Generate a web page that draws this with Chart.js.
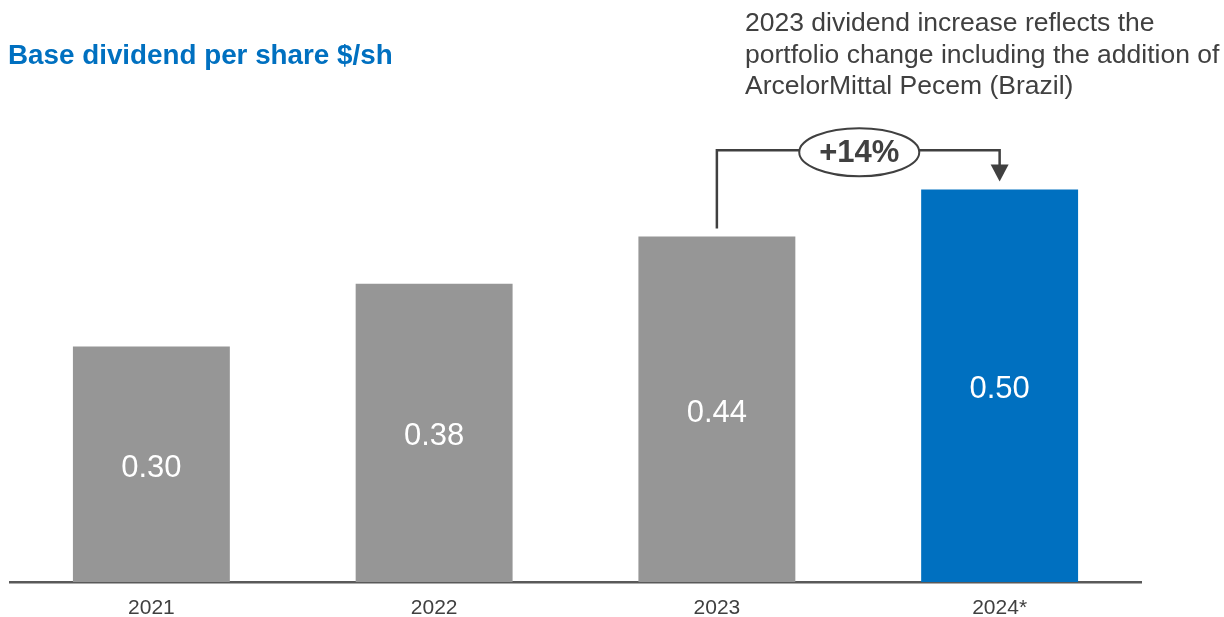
<!DOCTYPE html>
<html>
<head>
<meta charset="utf-8">
<script src="https://cdn.jsdelivr.net/npm/chart.js@4/dist/chart.umd.min.js"></script>
<style>
  html, body { margin: 0; padding: 0; background: #fff; }
  body { width: 1224px; height: 617px; position: relative; overflow: hidden;
         font-family: "Liberation Sans", Arial, sans-serif; }
  #wrap { position: absolute; left: 0; top: 0; width: 1224px; height: 617px; }
  .title { position: absolute; left: 8px; top: 40px; font-size: 27.8px; font-weight: bold;
           color: #0070c0; line-height: 30px; white-space: nowrap; }
  .note { position: absolute; left: 745px; top: 7px; font-size: 26.5px; color: #404040;
          line-height: 31.5px; white-space: nowrap; }
</style>
</head>
<body>
<div id="wrap"><canvas id="dividendChart" width="1224" height="617"></canvas></div>
<div class="title">Base dividend per share $/sh</div>
<div class="note">2023 dividend increase reflects the<br>portfolio change including the addition of<br>ArcelorMittal Pecem (Brazil)</div>
<script>
// Données
const years = ['2021', '2022', '2023', '2024*'];
const dividends = [0.30, 0.38, 0.44, 0.50];
const barColors = ['#969696', '#969696', '#969696', '#0070c0'];

const textDark = '#404040';

// Valeurs écrites au centre des barres
const barLabels = {
    id: 'barLabels',
    afterDatasetsDraw(chart) {
        const { ctx } = chart;
        const meta = chart.getDatasetMeta(0);
        ctx.save();
        ctx.fillStyle = '#ffffff';
        ctx.font = '31px "Liberation Sans", Arial, sans-serif';
        ctx.textAlign = 'center';
        ctx.textBaseline = 'middle';
        meta.data.forEach((bar, i) => {
            const p = bar.getCenterPoint();
            ctx.fillText(dividends[i].toFixed(2), p.x, p.y + 4);
        });
        ctx.restore();
    }
};

// Flèche 2023 -> 2024 avec la variation en pourcentage
const growthArrow = {
    id: 'growthArrow',
    afterDraw(chart) {
        const { ctx, scales: { x, y } } = chart;
        const x0 = x.getPixelForValue(2);
        const x1 = x.getPixelForValue(3);
        const yStart = y.getPixelForValue(dividends[2]) - 8;
        const yEnd = y.getPixelForValue(dividends[3]) - 8;
        const yTop = y.getPixelForValue(0.55);
        const cx = (x0 + x1) / 2;
        const rx = 59, ry = 24;
        const pct = Math.round((dividends[3] / dividends[2] - 1) * 100);

        ctx.save();
        ctx.strokeStyle = textDark;
        ctx.lineWidth = 2.5;
        ctx.beginPath();
        ctx.moveTo(x0, yStart);
        ctx.lineTo(x0, yTop);
        ctx.lineTo(cx - rx, yTop);
        ctx.moveTo(cx + rx, yTop);
        ctx.lineTo(x1, yTop);
        ctx.lineTo(x1, yEnd - 14);
        ctx.stroke();

        // pointe
        ctx.fillStyle = textDark;
        ctx.beginPath();
        ctx.moveTo(x1 - 9, yEnd - 17);
        ctx.lineTo(x1 + 9, yEnd - 17);
        ctx.lineTo(x1, yEnd);
        ctx.closePath();
        ctx.fill();

        // bulle
        ctx.lineWidth = 2;
        ctx.fillStyle = '#ffffff';
        ctx.beginPath();
        ctx.ellipse(cx + 1, yTop + 2, rx + 1, ry, 0, 0, Math.PI * 2);
        ctx.fill();
        ctx.stroke();

        ctx.fillStyle = textDark;
        ctx.font = 'bold 31px "Liberation Sans", Arial, sans-serif';
        ctx.textAlign = 'center';
        ctx.textBaseline = 'middle';
        ctx.fillText('+' + pct + '%', cx + 1, yTop + 3);
        ctx.restore();
    }
};

new Chart(document.getElementById('dividendChart'), {
    type: 'bar',
    data: {
        labels: years,
        datasets: [{
            data: dividends,
            backgroundColor: barColors,
            borderWidth: 0,
            categoryPercentage: 1,
            barPercentage: 0.555
        }]
    },
    options: {
        responsive: false,
        animation: false,
        layout: { padding: { left: 10, right: 83, top: 111, bottom: 0 } },
        plugins: {
            legend: { display: false },
            tooltip: { enabled: false }
        },
        scales: {
            x: {
                grid: { display: false, drawTicks: false },
                border: { display: true, color: '#595959', width: 2.5 },
                ticks: {
                    color: textDark,
                    padding: 14,
                    font: { family: '"Liberation Sans", Arial, sans-serif', size: 21 }
                },
                afterFit(scale) { scale.height = 35; }
            },
            y: {
                display: false,
                min: 0,
                max: 0.6
            }
        }
    },
    plugins: [barLabels, growthArrow]
});
</script>
</body>
</html>
